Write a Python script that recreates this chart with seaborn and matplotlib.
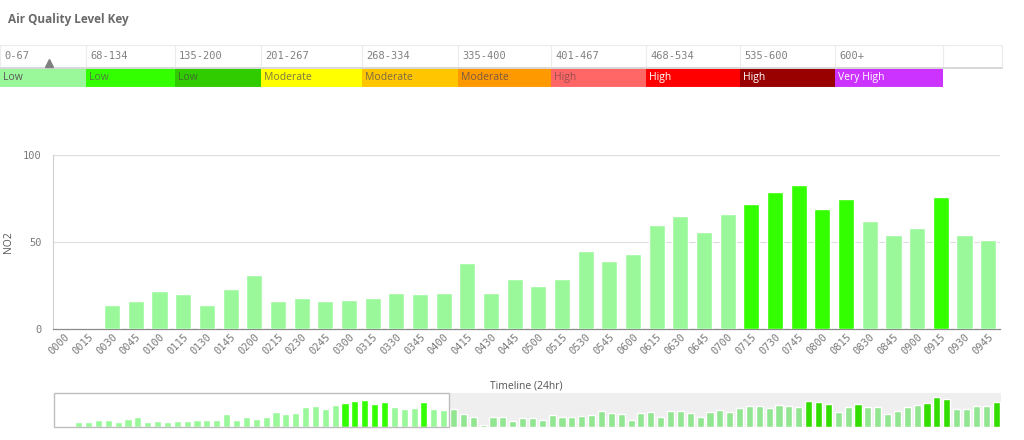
import matplotlib
matplotlib.use("Agg")
import matplotlib.pyplot as plt
from matplotlib.patches import Rectangle
import seaborn as sns
import pandas as pd

# ---------------- data ----------------
key_ranges = ["0-67", "68-134", "135-200", "201-267", "268-334",
              "335-400", "401-467", "468-534", "535-600", "600+"]
key_levels = ["Low", "Low", "Low", "Moderate", "Moderate", "Moderate",
              "High", "High", "High", "Very High"]
key_upper = [67, 134, 200, 267, 334, 400, 467, 534, 600, 10**6]
key_colors = ["#9AF89A", "#33FF00", "#31CC00", "#FFFF00", "#FFC600",
              "#FF9900", "#FF6666", "#FF0000", "#990000", "#CC33FF"]
key_text_colors = ["#5A5A5A", "#4F7F3F", "#3F6F2F", "#7A7A40", "#7A6A40",
                   "#7A5A40", "#994F4F", "#FFFFFF", "#FFFFFF", "#FFFFFF"]

times = [f"{h:02d}{m:02d}" for h in range(24) for m in (0, 15, 30, 45)]
no2 = [0, 0, 14, 16, 22, 20, 14, 23, 31, 16, 18, 16, 17, 18, 21, 20, 21, 38, 21, 29,
       25, 29, 45, 39, 43, 60, 65, 56, 66, 72, 79, 83, 69, 75, 62, 54, 58, 76, 54, 51,
       55, 38, 30, 5, 30, 30, 18, 26, 28, 20, 36, 30, 30, 32, 36, 48, 42, 38, 20,
       42, 44, 30, 48, 48, 42, 30, 46, 52, 46, 58, 64, 64, 58, 66, 64, 62, 78, 76,
       70, 46, 60, 70, 60, 62, 40, 48, 60, 66, 74, 90, 86, 56, 56, 64, 64, 76]
y_ticks = [0, 50, 100]

# ---------------- layout / style ----------------
W, H = 1024, 440
WINDOW = 40                      # bars shown in the main view
col_edges = [0, 86, 175, 261, 362, 458, 551, 646, 740, 835, 943, 1002]
GRAY_TXT = "#7A7A7A"
MONO = "DejaVu Sans Mono"
SANS = ["Open Sans", "DejaVu Sans"]
dim_colors = {"#9AF89A": "#92E692", "#33FF00": "#33DD00"}


def level_color(v):
    for up, c in zip(key_upper, key_colors):
        if v <= up:
            return c
    return key_colors[-1]


sns.set_theme(style="white")
plt.rcParams["font.family"] = SANS

fig = plt.figure(figsize=(W / 100, H / 100), dpi=100)

# title
fig.text(8 / W, 1 - 20 / H, "Air Quality Level Key", fontsize=8.5, fontweight="bold",
         color="#6A6A6A", va="center", ha="left", family=SANS)

# ---------------- key table ----------------
kax = fig.add_axes([0, 1 - 87 / H, 1, 42 / H])
kax.set_xlim(0, W)
kax.set_ylim(0, 42)
kax.axis("off")
lefts = col_edges[:-2]
widths = [b - a for a, b in zip(col_edges[:-2], col_edges[1:-1])]
kax.bar(lefts, [19.3] * len(lefts), width=widths, bottom=0, align="edge",
        color=key_colors, linewidth=0)
for x0, rng, lvl, tc in zip(lefts, key_ranges, key_levels, key_text_colors):
    kax.text(x0 + 4, 31, rng, family=MONO, fontsize=7.5, color="#808080",
             va="center", ha="left")
    kax.text(x0 + 3, 9.8, lvl, family=SANS, fontsize=7.5, color=tc,
             va="center", ha="left")
for xe in col_edges:
    kax.plot([xe, xe], [19.3, 42], color="#ECECEC", lw=0.8)
kax.plot([0, 1002], [42, 42], color="#ECECEC", lw=0.8)
kax.plot([0, 1002], [19.3, 19.3], color="#D8D8D8", lw=1.4)
kax.plot([0, 1002], [0, 0], color="#EEEEEE", lw=0.8)
kax.plot([49], [24], marker="^", color="#808080", markersize=5.5, clip_on=False)

# ---------------- main chart ----------------
ax = fig.add_axes([53 / W, 1 - 329.3 / H, 947 / W, 174.3 / H])
df_main = pd.DataFrame({"time": times[:WINDOW], "no2": no2[:WINDOW]})
pal_main = {t: level_color(v) for t, v in zip(df_main["time"], df_main["no2"])}
sns.barplot(data=df_main, x="time", y="no2", hue="time", palette=pal_main,
            legend=False, width=0.68, saturation=1, ax=ax, zorder=3)
ax.set_xlim(-0.5, WINDOW - 0.5)
ax.set_ylim(0, 100)
ax.set_yticks(y_ticks)
ax.set_yticklabels([str(t) for t in y_ticks], family=MONO, fontsize=7.5, color=GRAY_TXT)
ax.yaxis.grid(True, color="#DDDDDD", lw=0.8, zorder=0)
ax.xaxis.grid(False)
for s in ("top", "right"):
    ax.spines[s].set_visible(False)
ax.spines["left"].set_color("#D0D0D0")
ax.spines["left"].set_linewidth(0.8)
ax.spines["bottom"].set_color("#8A8A8A")
ax.spines["bottom"].set_linewidth(0.9)
ax.tick_params(axis="y", length=0, pad=8)
ax.tick_params(axis="x", length=0, pad=2)
ax.set_xticks(range(WINDOW))
ax.set_xticklabels(times[:WINDOW], rotation=45, ha="right", va="top",
                   rotation_mode="anchor", family=MONO, fontsize=7.5, color=GRAY_TXT)
ax.set_xlabel("Timeline (24hr)", fontsize=7.5, color="#555555", family=SANS)
ax.xaxis.set_label_coords(0.5, -(381 - 329.3) / 174.3)
ax.set_ylabel("NO2", fontsize=7.5, color="#555555", family=SANS)
ax.yaxis.set_label_coords(-(53 - 8) / 947, 0.5)
ax.yaxis.label.set_va("center")

# ---------------- navigator ----------------
nax = fig.add_axes([54 / W, 1 - 427 / H, 947 / W, 34 / H])
df_all = pd.DataFrame({"time": times, "no2": no2})
pal_all = {}
for i, (t, v) in enumerate(zip(times, no2)):
    c = level_color(v)
    pal_all[t] = c if i < WINDOW else dim_colors.get(c, c)
nax.axvspan(WINDOW - 0.5, len(times) - 0.5, color="#EFEFEF", zorder=0, lw=0)
sns.barplot(data=df_all, x="time", y="no2", hue="time", palette=pal_all,
            legend=False, width=0.72, saturation=1, ax=nax, zorder=3)
nax.set_xlim(-0.5, len(times) - 0.5)
nax.set_ylim(0, 103)
nax.axis("off")
nax.add_patch(Rectangle((-0.5, 0), WINDOW, 103, fill=False, edgecolor="#BDBDBD",
                        lw=1.0, zorder=4, clip_on=False))

fig.savefig("out.png", dpi=100, facecolor="white")
